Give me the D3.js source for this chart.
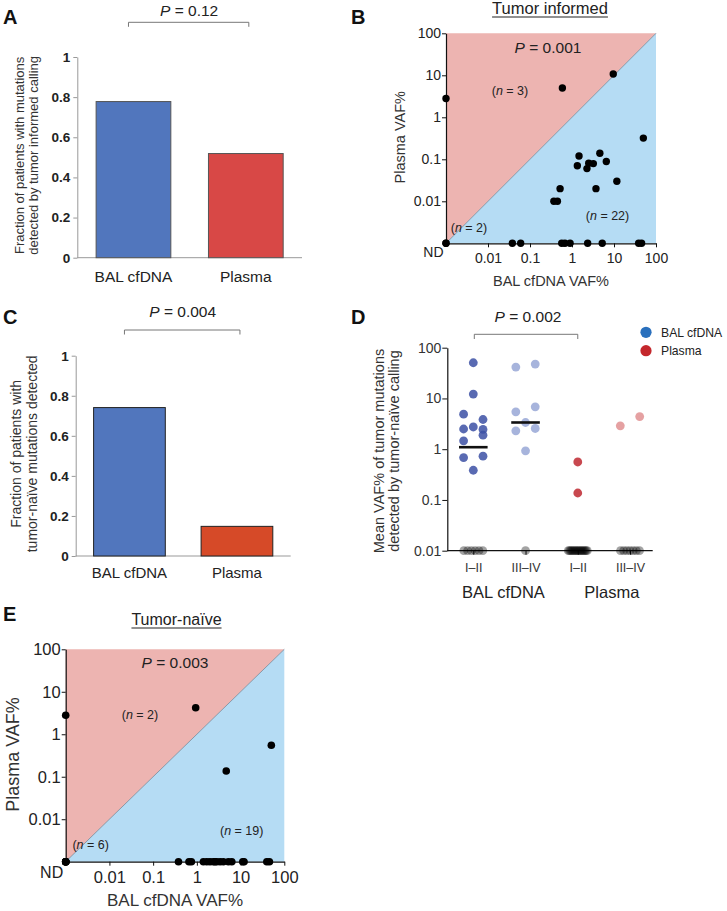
<!DOCTYPE html>
<html><head><meta charset="utf-8">
<script src="https://cdn.jsdelivr.net/npm/d3@7"></script>
<style>
body{margin:0;background:#fff}
svg{display:block}
text{font-family:"Liberation Sans",Arial,Helvetica,sans-serif}
</style>
</head><body>
<svg id="chart" width="727" height="911"></svg>
<script>
// ---------------- DATA ----------------
const barCategories = ["BAL cfDNA", "Plasma"];
const fracTumorInformed = [0.778, 0.519];
const fracTumorNaive = [0.741, 0.148];
const barTicks = [0, 0.2, 0.4, 0.6, 0.8, 1];
const barTickLabels = ["0", "0.2", "0.4", "0.6", "0.8", "1"];

const logTicks = [0.01, 0.1, 1, 10, 100];
const logTickLabels = ["0.01", "0.1", "1", "10", "100"];
const ndLabel = "ND";

// Panel B (tumor informed): null = not detected (ND)
const bBalVaf = [null, 0.59, 9.6, 50, 1.47, 1.34, 4.6, 2.5, 2.27, 3.22, 6.56, 11.7, 3.72, 0.52, 0.37, 0.45,
  null, null, 0.038, 0.06, 0.57, 0.68, 0.9, 2.36, 5.25, 38.6, 45.4];
const bPlasmaVaf = [2.8, 5.0, 10.7, 0.32, 0.12, 0.07, 0.139, 0.081, 0.06, 0.079, 0.089, 0.03, 0.02, 0.02, 0.01, 0.01,
  null, null, null, null, null, null, null, null, null, null, null];
const bCounts = ["3", "22", "2"];

// Panel E (tumor-naive)
const eBalVaf = [null, 0.94, 50.5, 4.7, null, null, null, null, null, null,
  0.38, 0.66, 0.75, 1.41, 1.69, 2.0, 2.39, 2.6, 2.85, 3.4, 4.04, 5.26, 6.3, 11.2, 12.0, 39.8, 45.7];
const ePlasmaVaf = [2.8, 4.2, 0.55, 0.136, null, null, null, null, null, null,
  null, null, null, null, null, null, null, null, null, null, null, null, null, null, null, null, null];
const eCounts = ["2", "19", "6"];

// Panel D: mean VAF% by stage (0 = not detected)
const dGroups = ["BAL I–II", "BAL III–IV", "Plasma I–II", "Plasma III–IV"];
const dStageLabels = ["I–II", "III–IV", "I–II", "III–IV"];
const dSampleLabels = ["BAL cfDNA", "Plasma"];
const balEarly = [50.5, 12.2, 4.9, 3.85, 2.74, 2.5, 2.45, 1.89, 1.46, 0.73, 0.685, 0.385, 0, 0, 0, 0, 0, 0];
const balEarlySlot = [0, 0, -1, 1, 0, -1, 1, 1, -1, 1, -1, 0];
const balLate = [47.6, 41.5, 6.85, 5.45, 3.36, 2.56, 2.3, 0.93, 0];
const balLateSlot = [1, -1, 1, -1, 0, 1, -1, 0];
const plasmaEarly = [0.56, 0.137, 0, 0, 0, 0, 0, 0, 0, 0, 0, 0, 0, 0, 0, 0, 0, 0];
const plasmaEarlySlot = [0, 0];
const plasmaLate = [4.4, 2.89, 0, 0, 0, 0, 0, 0, 0];
const plasmaLateSlot = [1, -1];
const dTicks = [0.01, 0.1, 1, 10, 100];
const dTickLabels = ["0.01", "0.1", "1", "10", "100"];

const pValues = {A: "0.12", B: "0.001", C: "0.004", D: "0.002", E: "0.003"};

// ---------------- DRAWING ----------------
const svg = d3.select("#chart");
const FONT_TXT = "#222";

function panelLetter(letter, x, y) {
  svg.append("text").attr("x", x).attr("y", y).attr("font-size", 20).attr("font-weight", "bold")
    .attr("fill", "#111").text(letter);
}
function pText(x, y, val, size) {
  const t = svg.append("text").attr("x", x).attr("y", y).attr("text-anchor", "middle")
    .attr("font-size", size).attr("fill", FONT_TXT);
  t.append("tspan").attr("font-style", "italic").text("P");
  t.append("tspan").text(" = " + val);
}
function nText(x, y, n, size) {
  const t = svg.append("text").attr("x", x).attr("y", y).attr("text-anchor", "middle")
    .attr("font-size", size).attr("fill", FONT_TXT);
  t.append("tspan").text("(");
  t.append("tspan").attr("font-style", "italic").text("n");
  t.append("tspan").text(" = " + n + ")");
}
function bracket(x1, x2, y, h, color) {
  svg.append("path").attr("d", `M${x1},${y + h}V${y}H${x2}V${y + h}`)
    .attr("fill", "none").attr("stroke", color).attr("stroke-width", 1);
}
function rotTitle(lines, cx, cy, size, gap) {
  lines.forEach((l, i) => {
    svg.append("text").attr("transform", `translate(${cx + (i - (lines.length - 1) / 2) * gap},${cy}) rotate(-90)`)
      .attr("text-anchor", "middle").attr("dy", "0.35em").attr("font-size", size).attr("fill", "#333").text(l);
  });
}

function barPanel(o) {
  const y = d3.scaleLinear().domain([0, 1]).range([o.yB, o.yT]);
  const x = d3.scaleBand().domain(barCategories).range([o.xL, o.xR]).paddingInner(o.pad).paddingOuter(o.pad / 2);
  const ax = svg.append("g").attr("transform", `translate(${o.xL},0)`)
    .call(d3.axisLeft(y).tickValues(barTicks).tickFormat((d, i) => barTickLabels[i]).tickSize(4).tickSizeOuter(0).tickPadding(3));
  ax.select(".domain").attr("stroke", "#999");
  ax.selectAll(".tick line").attr("stroke", "#999");
  ax.selectAll(".tick text").attr("font-size", 13.5).attr("font-weight", "bold").attr("fill", "#222")
    .attr("font-family", "'Liberation Sans',Arial,sans-serif");
  svg.append("line").attr("x1", o.xL).attr("x2", o.xR).attr("y1", o.yB).attr("y2", o.yB).attr("stroke", "#999");
  svg.selectAll(null).data(o.values).enter().append("rect")
    .attr("x", (d, i) => x(barCategories[i])).attr("width", x.bandwidth())
    .attr("y", d => y(d)).attr("height", d => y(0) - y(d))
    .attr("fill", (d, i) => o.colors[i]).attr("stroke", o.stroke).attr("stroke-width", 1);
  barCategories.forEach(c => {
    svg.append("text").attr("x", x(c) + x.bandwidth() / 2).attr("y", o.labelY).attr("text-anchor", "middle")
      .attr("font-size", o.labelSize).attr("fill", FONT_TXT).text(c);
  });
  const c1 = x(barCategories[0]) + x.bandwidth() / 2, c2 = x(barCategories[1]) + x.bandwidth() / 2;
  bracket(c1 - 5, c2 + 3, o.brY, 4.5, "#777");
  pText((c1 + c2) / 2 - 0.5, o.pY, o.p, 15.5);
  rotTitle(o.title, o.titleX, (o.yT + o.yB) / 2 - 2, o.titleSize, o.titleGap);
}

function scatterPanel(o) {
  const x = d3.scaleLog().domain([0.001, 100]).range([o.xL, o.xR]);
  const y = d3.scaleLog().domain([0.001, 100]).range([o.yB, o.yT]);
  const x0 = x(0.001), x1 = x(100), y0 = y(0.001), y1 = y(100);
  svg.append("path").attr("d", `M${x0},${y0}L${x0},${y1}L${x1},${y1}Z`).attr("fill", "#edb4b1");
  svg.append("path").attr("d", `M${x0},${y0}L${x1},${y1}L${x1},${y0}Z`).attr("fill", "#b5dcf4");
  svg.append("line").attr("x1", x0).attr("y1", y0).attr("x2", x1).attr("y2", y1)
    .attr("stroke", "#6a7a8a").attr("stroke-width", 0.7);
  const ya = svg.append("g").attr("transform", `translate(${x0},0)`)
    .call(d3.axisLeft(y).tickValues(logTicks).tickFormat((d, i) => logTickLabels[i]).tickSize(4).tickSizeOuter(0).tickPadding(1));
  const xa = svg.append("g").attr("transform", `translate(0,${y0})`)
    .call(d3.axisBottom(x).tickValues(logTicks).tickFormat((d, i) => logTickLabels[i]).tickSize(4).tickSizeOuter(0).tickPadding(o.xPad));
  [ya, xa].forEach(a => {
    a.select(".domain").attr("stroke", "#111").attr("stroke-width", 1.2);
    a.selectAll(".tick line").attr("stroke", "#111");
    a.selectAll(".tick text").attr("font-size", o.tickSize).attr("fill", FONT_TXT)
      .attr("font-family", "'Liberation Sans',Arial,sans-serif");
  });
  svg.append("text").attr("x", x0 - 2.5).attr("y", y0 + o.ndDy).attr("text-anchor", "end")
    .attr("font-size", o.ndSize).attr("fill", FONT_TXT).text(ndLabel);
  const pts = o.bal.map((b, i) => ({b: b === null ? 0.001 : b, p: o.plasma[i] === null ? 0.001 : o.plasma[i]}));
  svg.selectAll(null).data(pts).enter().append("circle")
    .attr("cx", d => x(d.b)).attr("cy", d => y(d.p)).attr("r", o.r).attr("fill", "#000");
  // header
  const h = svg.append("text").attr("x", o.headX).attr("y", o.headY).attr("text-anchor", "middle")
    .attr("font-size", o.headSize).attr("fill", FONT_TXT).text(o.head);
  const w = h.node().getComputedTextLength();
  svg.append("line").attr("x1", o.headX - w / 2).attr("x2", o.headX + w / 2)
    .attr("y1", o.headY + 3).attr("y2", o.headY + 3).attr("stroke", "#222").attr("stroke-width", 1.2);
  pText(o.pX, o.pY, o.p, 15.5);
  nText(o.n[0][0], o.n[0][1], o.counts[0], 12.5);
  nText(o.n[1][0], o.n[1][1], o.counts[1], 12.5);
  nText(o.n[2][0], o.n[2][1], o.counts[2], 12.5);
  svg.append("text").attr("x", (x0 + x1) / 2).attr("y", o.xTitleY).attr("text-anchor", "middle")
    .attr("font-size", o.titleSize).attr("fill", "#333").text("BAL cfDNA VAF%");
  rotTitle(["Plasma VAF%"], o.yTitleX, (y0 + y1) / 2 - 1, o.yTitleSize, 0);
}

// ---- Panel A ----
panelLetter("A", 3, 24);
barPanel({xL: 77.3, xR: 302, yB: 257.7, yT: 57, pad: 0.335, values: fracTumorInformed,
  colors: ["#5176bd", "#d84846"], stroke: "#555", labelY: 282, labelSize: 15.5,
  brY: 22.3, pY: 16, p: pValues.A,
  title: ["Fraction of patients with mutations", "detected by tumor informed calling"],
  titleX: 26.5, titleSize: 13, titleGap: 14.5});

// ---- Panel B ----
panelLetter("B", 351, 24);
scatterPanel({xL: 446, xR: 656, yB: 243.3, yT: 33.3, tickSize: 14, ndSize: 14, xPad: 5.8, ndDy: 13.5, r: 3.7,
  bal: bBalVaf, plasma: bPlasmaVaf, head: "Tumor informed", headX: 550, headY: 14, headSize: 16.5,
  p: pValues.B, pX: 548, pY: 53, counts: bCounts, n: [[510, 95], [607.5, 220], [469, 231.5]],
  xTitleY: 286, yTitleX: 399.5, titleSize: 14.5, yTitleSize: 14.5});

// ---- Panel C ----
panelLetter("C", 3, 324);
barPanel({xL: 75.7, xR: 290.7, yB: 556, yT: 355.7, pad: 0.333, values: fracTumorNaive,
  colors: ["#5176bd", "#d64a28"], stroke: "#222", labelY: 578, labelSize: 15,
  brY: 330, pY: 316.7, p: pValues.C,
  title: ["Fraction of patients with", "tumor-naïve mutations detected"],
  titleX: 24.5, titleSize: 14, titleGap: 16});

// ---- Panel D ----
panelLetter("D", 351, 324);
(function () {
  const y = d3.scaleLog().domain([0.01, 100]).range([550.7, 347.7]);
  const x = d3.scalePoint().domain(dGroups).range([473.3, 630]);
  const ya = svg.append("g").attr("transform", "translate(447.3,0)")
    .call(d3.axisLeft(y).tickValues(dTicks).tickFormat((d, i) => dTickLabels[i]).tickSize(5).tickSizeOuter(0).tickPadding(1));
  const xa = svg.append("g").attr("transform", "translate(0,550.7)")
    .call(d3.axisBottom(x).tickFormat((d, i) => dStageLabels[i]).tickSize(4).tickSizeOuter(0).tickPadding(8));
  xa.select(".domain").attr("d", "M447.3,0H652.7");
  [ya, xa].forEach(a => {
    a.select(".domain").attr("stroke", "#111").attr("stroke-width", 1.2);
    a.selectAll(".tick line").attr("stroke", "#111");
    a.selectAll(".tick text").attr("fill", "#333").attr("font-family", "'Liberation Sans',Arial,sans-serif");
  });
  ya.selectAll(".tick text").attr("font-size", 14);
  xa.selectAll(".tick text").attr("font-size", 12.5);
  const groups = [
    {v: balEarly, s: balEarlySlot, c: "rgba(60,80,165,0.85)", median: true},
    {v: balLate, s: balLateSlot, c: "rgba(130,148,205,0.7)", median: true},
    {v: plasmaEarly, s: plasmaEarlySlot, c: "rgba(190,40,48,0.85)", median: false},
    {v: plasmaLate, s: plasmaLateSlot, c: "rgba(215,110,112,0.65)", median: false}
  ];
  const slotW = 9.7, r = 4.4;
  groups.forEach((g, gi) => {
    const cx = x(dGroups[gi]);
    const zeros = g.v.filter(v => v === 0);
    const nz = g.v.filter(v => v > 0);
    svg.selectAll(null).data(zeros).enter().append("circle")
      .attr("cx", (d, i) => zeros.length === 1 ? cx : cx - 9.5 + i * 19 / (zeros.length - 1))
      .attr("cy", y(0.01)).attr("r", r).attr("fill", "rgba(0,0,0,0.36)");
    svg.selectAll(null).data(nz).enter().append("circle")
      .attr("cx", (d, i) => cx + g.s[i] * slotW).attr("cy", d => y(d)).attr("r", r).attr("fill", g.c);
    if (g.median) {
      const m = d3.median(g.v);
      svg.append("line").attr("x1", cx - 14.3).attr("x2", cx + 14.3).attr("y1", y(m)).attr("y2", y(m))
        .attr("stroke", "#111").attr("stroke-width", 2.6);
    }
  });
  svg.append("text").attr("x", (x(dGroups[0]) + x(dGroups[1])) / 2 + 4).attr("y", 598).attr("text-anchor", "middle")
    .attr("font-size", 16.5).attr("fill", FONT_TXT).text(dSampleLabels[0]);
  svg.append("text").attr("x", (x(dGroups[2]) + x(dGroups[3])) / 2 + 8).attr("y", 598).attr("text-anchor", "middle")
    .attr("font-size", 16.5).attr("fill", FONT_TXT).text(dSampleLabels[1]);
  bracket(x(dGroups[0]) + 1, x(dGroups[2]), 334.3, 4.7, "#777");
  pText(528, 321.7, pValues.D, 15.5);
  rotTitle(["Mean VAF% of tumor mutations", "detected by tumor-naïve calling"], 386.5, 451, 14.5, 15);
  // legend
  const legend = [["BAL cfDNA", "#2a70bd"], ["Plasma", "#c4272c"]];
  legend.forEach((l, i) => {
    svg.append("circle").attr("cx", 646).attr("cy", 332.3 + i * 18.4).attr("r", 5.6).attr("fill", l[1]);
    svg.append("text").attr("x", 661).attr("y", 337 + i * 18.4).attr("font-size", 12.2).attr("fill", FONT_TXT).text(l[0]);
  });
})();

// ---- Panel E ----
panelLetter("E", 3, 621);
scatterPanel({xL: 65.7, xR: 284.3, yB: 861.7, yT: 649.3, tickSize: 16.5, ndSize: 16, xPad: 5.6, ndDy: 16.6, r: 3.8,
  bal: eBalVaf, plasma: ePlasmaVaf, head: "Tumor-naïve", headX: 176.5, headY: 625, headSize: 16,
  p: pValues.E, pX: 175, pY: 668.3, counts: eCounts, n: [[140, 719.3], [241.7, 835], [90.7, 849.3]],
  xTitleY: 906, yTitleX: 12.5, titleSize: 17, yTitleSize: 18});
</script>
</body></html>
